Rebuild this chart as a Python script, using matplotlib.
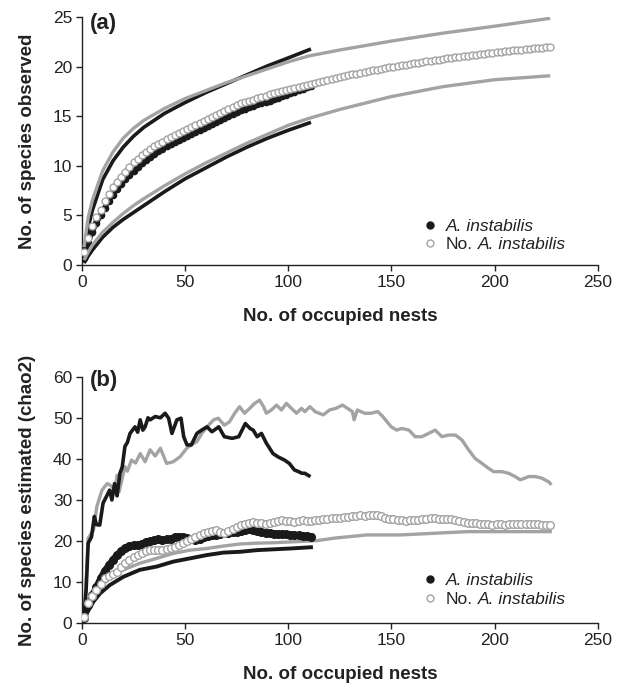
import numpy as np
import matplotlib
matplotlib.use("Agg")
import matplotlib.pyplot as plt
from matplotlib.lines import Line2D
from matplotlib.transforms import offset_copy

plt.rcParams['font.family'] = ['Liberation Sans', 'DejaVu Sans']

# ---------------- Panel (a): observed species ----------------
# mean curves (markers), sampled every 2 nests starting at 1
a_inst_mean = [0.7, 2.2, 3.3, 4.2, 5.0, 5.8, 6.5, 7.1, 7.7, 8.2,
               8.7, 9.1, 9.5, 9.9, 10.3, 10.6, 10.9, 11.2, 11.5, 11.7,
               12.0, 12.2, 12.4, 12.6, 12.8, 13.0, 13.2, 13.4, 13.6, 13.8,
               14.0, 14.2, 14.4, 14.6, 14.8, 15.0, 15.2, 15.4, 15.6, 15.7,
               15.9, 16.0, 16.2, 16.3, 16.5, 16.6, 16.8, 16.9, 17.1, 17.2,
               17.4, 17.5, 17.7, 17.8, 18.0, 18.1]
a_noinst_mean = [1.3, 2.7, 3.9, 4.8, 5.6, 6.5, 7.2, 7.9, 8.4, 8.9,
                 9.4, 9.9, 10.4, 10.7, 11.1, 11.4, 11.7, 12.0, 12.2, 12.4,
                 12.7, 12.9, 13.1, 13.3, 13.5, 13.7, 13.9, 14.1, 14.3, 14.5,
                 14.7, 14.9, 15.1, 15.3, 15.5, 15.7, 15.9, 16.1, 16.3, 16.5,
                 16.6, 16.7, 16.9, 17.0, 17.1, 17.3, 17.4, 17.5, 17.6, 17.7,
                 17.8, 17.9, 18.0, 18.1, 18.2, 18.3, 18.4, 18.5, 18.6, 18.7,
                 18.8, 18.9, 19.0, 19.1, 19.2, 19.3, 19.3, 19.4, 19.5, 19.6,
                 19.7, 19.7, 19.8, 19.9, 20.0, 20.0, 20.1, 20.2, 20.2, 20.3,
                 20.4, 20.4, 20.5, 20.6, 20.6, 20.7, 20.7, 20.8, 20.9, 20.9,
                 21.0, 21.0, 21.1, 21.1, 21.2, 21.2, 21.3, 21.3, 21.4, 21.4,
                 21.5, 21.5, 21.6, 21.6, 21.7, 21.7, 21.7, 21.8, 21.8, 21.9,
                 21.9, 21.9, 22.0, 22.0]
# confidence limits (lines)
a_inst_ci_x = [1, 3, 5, 10, 15, 20, 25, 30, 40, 50, 60, 70, 80, 90, 100, 111]
a_inst_upper = [1.2, 3.8, 5.5, 8.6, 10.5, 11.9, 13.0, 13.9, 15.3, 16.4, 17.4, 18.3, 19.2, 20.1, 20.9, 21.8]
a_inst_lower = [0.2, 0.9, 1.5, 2.8, 3.8, 4.6, 5.3, 6.0, 7.4, 8.7, 9.8, 10.9, 11.9, 12.8, 13.6, 14.4]
a_noinst_ci_x = [1, 3, 5, 10, 15, 20, 25, 30, 40, 50, 60, 70, 80, 90, 100, 110, 125, 150, 175, 200, 227]
a_noinst_upper = [1.8, 4.8, 6.5, 9.5, 11.4, 12.8, 13.8, 14.6, 15.8, 16.8, 17.6, 18.4, 19.1, 19.8, 20.5, 21.1, 21.7, 22.6, 23.4, 24.1, 24.9]
a_noinst_lower = [0.5, 1.3, 2.0, 3.3, 4.3, 5.2, 6.0, 6.7, 8.0, 9.2, 10.3, 11.3, 12.3, 13.2, 14.1, 14.8, 15.7, 17.0, 18.0, 18.7, 19.1]

# ---------------- Panel (b): chao2 estimates ----------------
b_inst_mean = [1.3, 4.5, 6.8, 8.9, 11.0, 12.8, 14.2, 15.5, 16.7, 17.6,
               18.4, 18.8, 19.0, 19.1, 19.4, 19.8, 20.0, 20.2, 20.4, 20.3,
               20.4, 20.6, 20.9, 21.1, 21.0, 20.7, 20.5, 20.3, 20.6, 21.1,
               21.2, 21.5, 21.6, 21.8, 21.9, 22.0, 22.2, 22.3, 22.5, 22.8,
               22.9, 22.7, 22.4, 22.2, 22.0, 21.9, 21.8, 21.8, 21.7, 21.7,
               21.6, 21.5, 21.4, 21.3, 21.2, 21.1]
b_noinst_mean = [1.6, 5.0, 6.6, 8.2, 9.6, 11.0, 11.5, 12.0, 12.6, 13.6,
                 14.6, 15.4, 16.1, 16.7, 17.2, 17.6, 17.8, 17.9, 17.9, 17.8,
                 18.0, 18.2, 18.6, 19.0, 19.5, 20.0, 20.5, 20.9, 21.4, 21.9,
                 22.2, 22.4, 22.7, 22.3, 21.9, 22.4, 23.0, 23.5, 23.8, 24.2,
                 24.4, 24.7, 24.5, 24.3, 24.1, 24.4, 24.7, 24.9, 25.1, 25.0,
                 24.8, 24.7, 24.9, 25.1, 25.0, 24.9, 25.1, 25.2, 25.3, 25.4,
                 25.5, 25.6, 25.7, 25.8, 25.9, 26.0, 26.2, 26.3, 26.2, 26.3,
                 26.4, 26.3, 26.0, 25.6, 25.4, 25.3, 25.1, 25.1, 25.0, 25.1,
                 25.1, 25.2, 25.3, 25.4, 25.5, 25.5, 25.4, 25.4, 25.3, 25.3,
                 25.1, 24.9, 24.7, 24.5, 24.4, 24.3, 24.2, 24.1, 24.1, 24.0,
                 24.1, 24.1, 24.0, 24.1, 24.1, 24.1, 24.2, 24.1, 24.2, 24.2,
                 24.1, 24.0, 23.9, 23.8]
b_inst_upper_x = [1, 2, 3, 4.6, 6, 7, 8.6, 10.2, 12, 13.4,
                  14.5, 15.8, 17, 18.4, 19.5, 20.8, 22, 23.3, 25.7, 27,
                  28.2, 29.5, 30.6, 32, 33, 35.5, 38, 40.3, 42, 43.6,
                  46, 48, 49.3, 50.9, 53, 55.7, 58, 60.6, 63, 66.3,
                  69, 72.8, 76, 79.2, 81.5, 83, 84.9, 87, 89.4, 92.6,
                  95, 98.2, 100.5, 103, 105, 106.6, 108, 110]
b_inst_upper = [1.5, 8, 19.5, 21, 26, 24, 23.9, 29.2, 31, 32.4,
                30, 34, 31, 36.5, 38, 43, 44, 46.2, 47.8, 46.5,
                49.5, 47, 47.8, 50, 49.5, 50.3, 50, 51.1, 49.9, 46.2,
                49.5, 49.9, 45.4, 43.4, 43.4, 46.2, 47, 47.8, 46.6, 47.8,
                45.4, 45, 45.4, 48.6, 47.4, 47, 45.4, 46.2, 43.8, 41.3,
                40.5, 39.7, 38.9, 37.3, 36.9, 36.5, 36.5, 35.9]
b_noinst_upper_x = [1, 2, 3, 5.6, 7.2, 9.7, 12.2, 14, 16, 17,
                    18, 20.8, 22, 24, 26, 28.2, 30.6, 33, 35.5, 38,
                    41, 44.2, 47.5, 50.8, 53, 55.7, 58.1, 60.6, 63.8, 66,
                    69, 71.5, 74, 76.4, 78.8, 81.3, 83.7, 86.1, 88, 89.4,
                    91.8, 94.3, 96.7, 99.1, 101.5, 104, 106.4, 108, 110.5, 113,
                    117, 120, 123.1, 126.3, 128.7, 131.1, 131.9, 133.5, 137, 140,
                    143.4, 145.8, 149.9, 152.5, 155, 158.5, 161.5, 164.8, 168, 171.2,
                    174.5, 177.7, 181, 184.2, 187.4, 190.6, 193.9, 197.1, 199.5, 203.6,
                    206.8, 210, 212.5, 216.6, 219.8, 223, 226.3, 227]
b_noinst_upper = [1.8, 10, 20.7, 22.7, 28.4, 32.4, 34, 33.5, 32.5, 36,
                  32, 38.1, 37, 39.7, 39, 41.3, 39.3, 42.2, 40.7, 42.6,
                  38.9, 39.3, 40.5, 42.6, 43.4, 44.2, 46.2, 47.8, 49.5, 49.9,
                  48.2, 49, 51.1, 52.7, 51.1, 52.3, 53.5, 54.3, 52.7, 51.1,
                  51.9, 53.1, 51.9, 53.5, 52.3, 51.1, 52.3, 51.5, 52.7, 51.5,
                  50.7, 51.9, 52.3, 53.1, 52.3, 51.5, 49.5, 51.9, 51.1, 51.1,
                  51.5, 50.3, 47.8, 47, 47.4, 47, 45.4, 45.4, 46.2, 47,
                  45.4, 45.8, 45.8, 44.6, 42.2, 40.1, 38.9, 37.7, 36.9, 36.9,
                  36.5, 35.7, 34.9, 35.7, 35.7, 35.3, 34.4, 34.0]
b_inst_lower_x = [1, 2.3, 5.6, 8.8, 13.5, 20, 28, 36.2, 44.2, 52.4, 60.5, 68.6, 76.7, 84.9, 93, 101, 111]
b_inst_lower = [0.8, 2.4, 5.3, 7.3, 9.3, 11.3, 13.0, 13.8, 15.0, 15.8, 16.6, 17.2, 17.4, 17.8, 18.0, 18.2, 18.5]
b_noinst_lower_x = [1, 2.3, 5.6, 8.8, 13.5, 20, 28, 36.2, 44.2, 52.4, 60.5, 68.6, 76.7, 84.9, 93, 101,
                    113.8, 121.9, 138, 154.4, 170.6, 186.8, 203, 227]
b_noinst_lower = [1.0, 3.2, 6.5, 8.9, 10.9, 13.0, 14.6, 15.8, 17.0, 17.8, 18.2, 18.8, 19.3, 19.5, 19.6, 19.8,
                  20.1, 20.7, 21.5, 21.5, 21.9, 22.3, 22.3, 22.3]

x_ticks = [0, 50, 100, 150, 200, 250]
xlabel = "No. of occupied nests"
ylabel_a = "No. of species observed"
ylabel_b = "No. of species estimated (chao2)"
species = "A. instabilis"
legend_labels = [species, "No."]   # second entry continues with the italic species name

BLACK = "#1a1a1a"
GRAY = "#a3a3a3"
TXT = "#222222"
LEG_FS = 12.5

fig = plt.figure(figsize=(6.23, 6.86), dpi=100)
ax_a = fig.add_axes([0.1316, 0.6137, 0.8278, 0.3611])
ax_b = fig.add_axes([0.1316, 0.0914, 0.8278, 0.3595])

def xs_every2(vals):
    return np.arange(1, 1 + 2 * len(vals), 2)

legends = []

def style(ax, ylim, yticks, ylabel, tag, tag_y, leg_y):
    ax.set_xlim(0, 250)
    ax.set_ylim(*ylim)
    ax.set_xticks(x_ticks)
    ax.set_yticks(yticks)
    for s in ["top", "right"]:
        ax.spines[s].set_visible(False)
    for s in ["left", "bottom"]:
        ax.spines[s].set_linewidth(1.0)
        ax.spines[s].set_color(TXT)
    ax.tick_params(direction="out", length=4, width=1.0, labelsize=12.5, colors=TXT, pad=3)
    ax.set_xlabel(xlabel, fontsize=13.5, fontweight="bold", labelpad=13, color=TXT)
    ax.set_ylabel(ylabel, fontsize=13.5, fontweight="bold", labelpad=12, color=TXT)
    ax.text(0.015, tag_y, tag, transform=ax.transAxes, fontsize=16, fontweight="bold",
            ha="left", va="center", color=TXT)
    handles = [
        Line2D([], [], linestyle="none", marker="o", markersize=5, markerfacecolor=BLACK,
               markeredgecolor=BLACK),
        Line2D([], [], linestyle="none", marker="o", markersize=5, markerfacecolor="white",
               markeredgecolor=GRAY, markeredgewidth=1.0),
    ]
    leg = ax.legend(handles, legend_labels, loc="center left", bbox_to_anchor=(0.661, leg_y),
                    frameon=False, handlelength=0.8, handletextpad=0.5, labelspacing=0.2,
                    borderpad=0, borderaxespad=0, fontsize=LEG_FS)
    texts = leg.get_texts()
    texts[0].set_fontstyle("italic")
    for t in texts:
        t.set_color(TXT)
    legends.append((ax, texts[1]))

# ---- panel (a)
ax = ax_a
ax.plot(a_inst_ci_x, a_inst_upper, color=BLACK, lw=2.6, solid_capstyle="butt", zorder=2)
ax.plot(a_inst_ci_x, a_inst_lower, color=BLACK, lw=2.6, solid_capstyle="butt", zorder=2)
ax.plot(xs_every2(a_inst_mean), a_inst_mean, linestyle="-", color=BLACK, lw=3.4,
        marker="o", markersize=4.5, markerfacecolor=BLACK, markeredgecolor=BLACK, zorder=3)
ax.plot(a_noinst_ci_x, a_noinst_upper, color=GRAY, lw=2.4, solid_capstyle="butt", zorder=4)
ax.plot(a_noinst_ci_x, a_noinst_lower, color=GRAY, lw=2.4, solid_capstyle="butt", zorder=4)
ax.plot(xs_every2(a_noinst_mean), a_noinst_mean, linestyle="none", marker="o", markersize=5,
        markerfacecolor="white", markeredgecolor=GRAY, markeredgewidth=1.0, zorder=5)
style(ax, (0, 25), [0, 5, 10, 15, 20, 25], ylabel_a, "(a)", 0.975, 0.119)

# ---- panel (b)
ax = ax_b
ax.plot(b_noinst_upper_x, b_noinst_upper, color=GRAY, lw=2.4, zorder=2)
ax.plot(b_inst_upper_x, b_inst_upper, color=BLACK, lw=2.6, zorder=3)
ax.plot(b_inst_lower_x, b_inst_lower, color=BLACK, lw=2.8, zorder=3)
ax.plot(b_noinst_lower_x, b_noinst_lower, color=GRAY, lw=2.4, zorder=4)
ax.plot(xs_every2(b_inst_mean), b_inst_mean, linestyle="-", color=BLACK, lw=4.5,
        marker="o", markersize=5.5, markerfacecolor=BLACK, markeredgecolor=BLACK, zorder=5)
ax.plot(xs_every2(b_noinst_mean), b_noinst_mean, linestyle="none", marker="o", markersize=5.5,
        markerfacecolor="white", markeredgecolor=GRAY, markeredgewidth=1.0, zorder=6)
style(ax, (0, 60), [0, 10, 20, 30, 40, 50, 60], ylabel_b, "(b)", 0.985, 0.135)

# append the italic species name after "No." in each legend
fig.canvas.draw()
renderer = fig.canvas.get_renderer()
for ax, t in legends:
    bb = t.get_window_extent(renderer)
    x_disp = bb.x1
    y_disp = (bb.y0 + bb.y1) / 2
    inv = fig.transFigure.inverted()
    xf, yf = inv.transform((x_disp, y_disp))
    space_w = 0.278 * LEG_FS * fig.dpi / 72.0
    fig.text(xf + space_w / fig.bbox.width, yf, species, fontsize=LEG_FS, fontstyle="italic",
             color=TXT, ha="left", va="center")

fig.savefig("out.png", dpi=100)
